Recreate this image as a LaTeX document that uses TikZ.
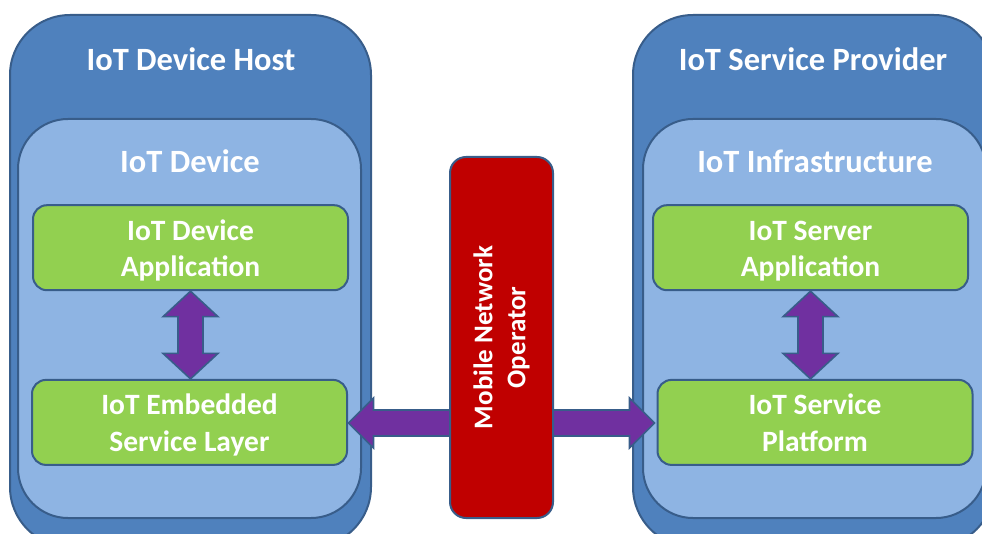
\documentclass[tikz,border=0pt]{standalone}
\usepackage{fontspec}
\setmainfont{Carlito}
\usetikzlibrary{calc}
\definecolor{hostblue}{HTML}{4F81BD}
\definecolor{innerblue}{HTML}{8EB4E3}
\definecolor{edgeblue}{HTML}{385D8A}
\definecolor{appgreen}{HTML}{92D050}
\definecolor{mnored}{HTML}{C00000}
\definecolor{arrowpurple}{HTML}{7030A0}
\newcommand{\hiStrut}{\rule{0pt}{31.5pt}}
\newcommand{\loStrut}{\rule[-10pt]{0pt}{0pt}}
\tikzset{
  box/.style={draw=edgeblue, line width=2pt, rectangle},
  hostbox/.style={box, fill=hostblue, rounded corners=60pt, minimum width=361pt, minimum height=532pt},
  innerbox/.style={box, fill=innerblue, rounded corners=50pt, minimum width=343pt, minimum height=399pt},
  appbox/.style={box, fill=appgreen, rounded corners=14pt, minimum width=315pt, minimum height=85pt,
    text=white, font=\bfseries\fontsize{29.5}{36.5}\selectfont, align=center, inner sep=0pt},
  title/.style={text=white, font=\bfseries\fontsize{32.5}{38}\selectfont, inner sep=0pt, anchor=base},
  mnobox/.style={box, fill=mnored, rounded corners=16pt, minimum width=361pt, minimum height=103pt,
    text=white, font=\bfseries\fontsize{27}{33}\selectfont, align=center, inner sep=0pt},
  barrow/.style={draw=edgeblue, line width=1.6pt, fill=arrowpurple, line join=miter},
}
\begin{document}
\begin{tikzpicture}[x=1pt, y=-1pt]
\useasboundingbox (0,0) rectangle (982,534);
\clip (0,0) rectangle (982,534);
% left side
\node[hostbox] (hostL) at (190.5,281) {};
\node[title] (hostLt) at (191,70.8) {IoT Device Host};
\node[innerbox] (devL) at (189.5,318.5) {};
\node[title] (devLt) at (190,173) {IoT Device};
\node[appbox] (devapp) at (190.5,247.7) {\hiStrut IoT Device\\Application\loStrut};
\node[appbox] (esl) at (189.5,422.4) {\hiStrut IoT Embedded\\Service Layer\loStrut};
% right side
\node[hostbox] (hostR) at (813.5,281) {};
\node[title] (hostRt) at (813,70.8) {IoT Service Provider};
\node[innerbox] (infR) at (814.5,318.5) {};
\node[title] (infRt) at (815,173) {IoT Infrastructure};
\node[appbox] (srvapp) at (810.5,247.7) {\hiStrut IoT Server\\Application\loStrut};
\node[appbox] (esp) at (815,422.4) {\hiStrut IoT Service\\Platform\loStrut};
% vertical double arrows
\draw[barrow] let \p1=(devapp.south), \p2=(esl.north) in
  (\x1,\y1) -- (\x1+27.5pt,\y1-25.5pt) -- (\x1+12.5pt,\y1-25.5pt) -- (\x1+12.5pt,\y2+25.5pt) -- (\x1+27.5pt,\y2+25.5pt)
  -- (\x1,\y2) -- (\x1-27.5pt,\y2+25.5pt) -- (\x1-12.5pt,\y2+25.5pt) -- (\x1-12.5pt,\y1-25.5pt) -- (\x1-27.5pt,\y1-25.5pt) -- cycle;
\draw[barrow] let \p1=(srvapp.south), \p2=(esp.north) in
  (\x1,\y1) -- (\x1+27.5pt,\y1-25.5pt) -- (\x1+12.5pt,\y1-25.5pt) -- (\x1+12.5pt,\y2+25.5pt) -- (\x1+27.5pt,\y2+25.5pt)
  -- (\x1,\y2) -- (\x1-27.5pt,\y2+25.5pt) -- (\x1-12.5pt,\y2+25.5pt) -- (\x1-12.5pt,\y1-25.5pt) -- (\x1-27.5pt,\y1-25.5pt) -- cycle;
% horizontal arrows from the operator
\coordinate (mnoc) at (501.5,337.5);
\coordinate (tipL) at ($(esl.east)+(0.5,0.6)$);
\coordinate (tipR) at ($(esp.west)+(-2,0.6)$);
\draw[barrow] let \p1=(tipL), \p2=(mnoc) in
  (\x1,\y1) -- (\x1+25pt,\y1+25pt) -- (\x1+25pt,\y1+13pt) -- (\x2,\y1+13pt) -- (\x2,\y1-13pt)
  -- (\x1+25pt,\y1-13pt) -- (\x1+25pt,\y1-25pt) -- cycle;
\draw[barrow] let \p1=(tipR), \p2=(mnoc) in
  (\x1,\y1) -- (\x1-25pt,\y1+25pt) -- (\x1-25pt,\y1+13pt) -- (\x2,\y1+13pt) -- (\x2,\y1-13pt)
  -- (\x1-25pt,\y1-13pt) -- (\x1-25pt,\y1-25pt) -- cycle;
% operator
\node[mnobox, rotate=90] (mno) at (mnoc) {Mobile Network\\Operator};
\end{tikzpicture}
\end{document}
